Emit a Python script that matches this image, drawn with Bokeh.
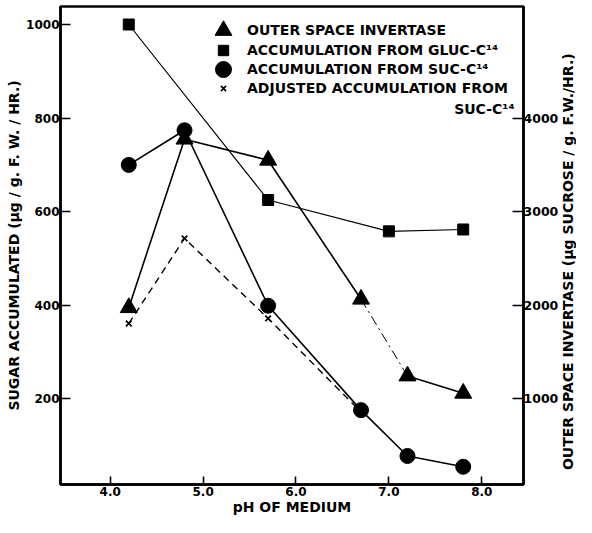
import math
from bokeh.plotting import figure
from bokeh.layouts import row
from bokeh.models import Range1d, LinearAxis, FixedTicker, Legend, LegendItem, Label
from bokeh.core.properties import value
from bokeh.embed import file_html
from bokeh.resources import INLINE

# ---- data ----
ph = [4.2, 4.8, 5.7, 6.7, 7.2, 7.8]
invertase = [1975, 3775, 3550, 2065, 1245, 1060]          # right axis
ph_gluc = [4.2, 5.7, 7.0, 7.8]
accum_gluc = [1000, 625, 558, 562]
accum_suc = [700, 774, 399, 176, 78, 55]
adjusted_suc = [361, 543, 372, 172, 76, 53]

x_ticks = [4, 5, 6, 7, 8]
x_tick_labels = ["4.0", "5.0", "6.0", "7.0", "8.0"]
left_ticks = [200, 400, 600, 800, 1000]
right_ticks = [1000, 2000, 3000, 4000]

legend_labels = ["OUTER SPACE INVERTASE", "ACCUMULATION FROM GLUC-C¹⁴",
                 "ACCUMULATION FROM SUC-C¹⁴", "ADJUSTED ACCUMULATION FROM"]
legend_cont = "SUC-C¹⁴"
left_title = "SUGAR ACCUMULATED (µg / g. F. W. / HR.)"
right_title = "OUTER SPACE INVERTASE (µg SUCROSE / g. F.W./HR.)"
x_title = "pH OF MEDIUM"

# ---- layout ----
SW = 15                      # strip for the right-hand title
W, H = 576 - SW, 517
BL, BR, BT, BB = 60, 35, 6, 33
FW, FH = W - BL - BR, H - BT - BB
X0 = 3.465
X1 = X0 + FW / 93.5          # keep the reference's px per pH unit
S = 0.468                    # px per sugar unit
Y1 = 1000 + 18 / S
Y0 = 1000 - (FH - 18) / S
R0, R1 = Y0 * 5, Y1 * 5
FONT = "DejaVu Sans"


def dx(px):
    return X0 + px * (X1 - X0) / FW


def dy(px):
    return Y1 - px * (Y1 - Y0) / FH


p = figure(width=W, height=H, output_backend="svg", toolbar_location=None,
           x_range=Range1d(X0, X1), y_range=Range1d(Y0, Y1),
           min_border_left=BL, min_border_right=BR, min_border_top=BT,
           min_border_bottom=BB, background_fill_color="white",
           border_fill_color="white")
p.extra_y_ranges = {"inv": Range1d(R0, R1)}
p.grid.visible = False
p.outline_line_color = "black"
p.outline_line_width = 2.5

right_axis = LinearAxis(y_range_name="inv")
p.add_layout(right_axis, "right")

p.xaxis.ticker = FixedTicker(ticks=x_ticks)
p.xaxis.major_label_overrides = dict(zip(x_ticks, x_tick_labels))
p.yaxis[0].ticker = FixedTicker(ticks=left_ticks)
right_axis.ticker = FixedTicker(ticks=right_ticks)

for ax, tick_len, fsize, so in [(p.xaxis[0], 8, "12px", 2),
                                (p.yaxis[0], 10, "12px", 1),
                                (right_axis, 11, "12.5px", 0)]:
    ax.axis_line_width = 2.5
    ax.axis_line_color = "black"
    ax.major_tick_line_width = 1.6
    ax.major_tick_line_color = "black"
    ax.major_tick_in = tick_len
    ax.major_tick_out = 0
    ax.minor_tick_in = 0
    ax.minor_tick_out = 0
    ax.major_label_text_font = FONT
    ax.major_label_text_font_style = "bold"
    ax.major_label_text_font_size = fsize
    ax.major_label_text_color = "black"
    ax.major_label_standoff = so

p.xaxis.axis_label = x_title
p.xaxis.axis_label_standoff = 0
p.xaxis.axis_label_text_font_size = "14px"
p.yaxis[0].axis_label = left_title
p.yaxis[0].axis_label_standoff = 1
p.yaxis[0].axis_label_text_font_size = "14px"
for ax in [p.xaxis[0], p.yaxis[0]]:
    ax.axis_label_text_font = FONT
    ax.axis_label_text_font_style = "bold"
    ax.axis_label_text_color = "black"

# ---- lines ----
p.line(ph_gluc, accum_gluc, line_width=1.2, color="black")
p.line(ph[:4], invertase[:4], y_range_name="inv", line_width=1.6, color="black")
p.line(ph[3:5], invertase[3:5], y_range_name="inv", line_width=1.0,
       color="black", line_dash="10 4 2 4")
p.line(ph[4:], invertase[4:], y_range_name="inv", line_width=1.6, color="black")
p.line(ph[:4], adjusted_suc[:4], line_width=1.4, color="black", line_dash="7 5")
p.line(ph, accum_suc, line_width=1.6, color="black")

# ---- markers ----
x_r = p.scatter(ph, adjusted_suc, marker="x", size=8, line_width=1.7, color="black")
sq_r = p.scatter(ph_gluc, accum_gluc, marker="square", size=11, color="black")
tri_r = p.scatter(ph, invertase, marker="triangle", size=17, color="black",
                  y_range_name="inv")
ci_r = p.scatter(ph, accum_suc, marker="circle", size=15, color="black")

# ---- legend: one legend per row so each key keeps its own size ----
KX = 223 - BL                 # key centre, px from frame left
rows = [(tri_r, legend_labels[0], 42, 30),
        (sq_r, legend_labels[1], 26, 50),
        (ci_r, legend_labels[2], 40, 69),
        (x_r, legend_labels[3], 18, 88)]
for r, lab, g, c in rows:
    leg = Legend(items=[LegendItem(label=lab, renderers=[r])],
                 location=(KX - g / 2, FH - ((c - BT) + g / 2)),
                 glyph_width=g, glyph_height=g, label_height=g,
                 label_standoff=int(24 - g / 2), padding=0, margin=0,
                 border_line_color=None, background_fill_alpha=0,
                 label_text_font=FONT, label_text_font_style="bold",
                 label_text_font_size="14px", label_text_color="black")
    p.add_layout(leg)

p.add_layout(Label(x=dx(517 - BL), y=dy(108 - BT), text=legend_cont,
                   text_align="right", text_baseline="middle",
                   text_font=FONT, text_font_style="bold",
                   text_font_size="14px", text_color="black"))

# ---- right-hand axis title in a narrow strip ----
side = figure(width=SW, height=H, output_backend="svg", toolbar_location=None,
              x_range=Range1d(0, 1), y_range=Range1d(0, 1),
              x_axis_location=None, y_axis_location=None, min_border=0,
              outline_line_color=None, background_fill_color="white",
              border_fill_color="white")
side.grid.visible = False
side.text(x=[0.42], y=[0.466], text=[right_title], angle=math.pi / 2,
          text_align="center", text_baseline="middle",
          text_font=value(FONT), text_font_style="bold",
          text_font_size="14px", text_color="black")

layout = row(p, side)
open("out.html", "w").write(file_html(layout, INLINE))
